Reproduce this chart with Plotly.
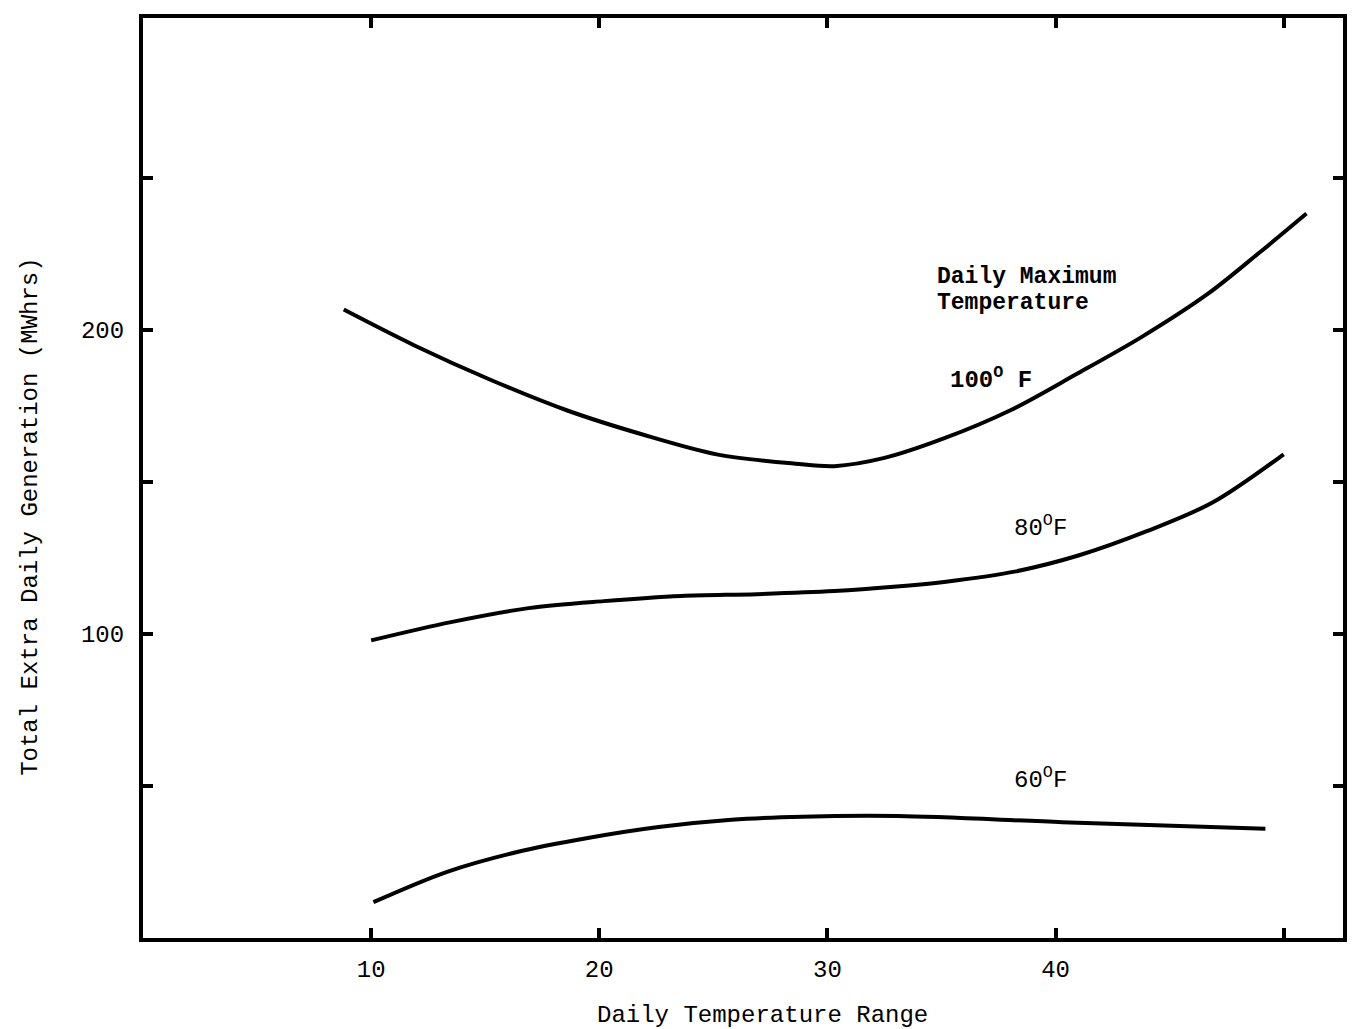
import plotly.graph_objects as go

# Daily temperature range (deg F) and total extra daily generation (MWhrs)
range_100f = [8.8, 11.9, 15.2, 18.6, 21.9, 25.2, 28.6, 30.3, 32.5, 35.1, 38.0, 40.9, 43.8, 46.7, 48.9, 51.0]
gen_100f = [206.7, 194.9, 183.7, 173.5, 165.6, 159.0, 156.0, 155.2, 157.9, 164.3, 173.5, 185.4, 197.8, 212.0, 225.2, 238.3]

range_80f = [10.0, 13.5, 16.9, 20.2, 23.6, 26.9, 30.3, 32.9, 35.2, 38.2, 41.0, 44.0, 46.9, 50.0]
gen_80f = [97.9, 103.9, 108.5, 110.8, 112.5, 113.1, 114.1, 115.5, 117.2, 120.5, 125.8, 133.8, 143.3, 159.1]

range_60f = [10.1, 13.3, 16.4, 19.5, 22.6, 25.8, 28.9, 33.1, 40.3, 49.2]
gen_60f = [11.8, 21.7, 28.3, 32.9, 36.5, 38.9, 39.9, 40.1, 38.1, 35.9]

x_labeled_ticks = [10, 20, 30, 40]
x_plain_ticks = [50]
y_labeled_ticks = [100, 200]
y_plain_ticks = [50, 150, 250]

FONT = "Liberation Mono"

fig = go.Figure()
for xs, ys in [(range_100f, gen_100f), (range_80f, gen_80f), (range_60f, gen_60f)]:
    fig.add_trace(go.Scatter(
        x=xs, y=ys, mode="lines",
        line=dict(color="black", width=4, shape="spline", smoothing=0.9),
        showlegend=False, hoverinfo="skip",
    ))

axis_common = dict(
    showline=True, linecolor="black", linewidth=4, mirror="ticks",
    ticks="inside", ticklen=10, tickwidth=4, tickcolor="black",
    showgrid=False, zeroline=False,
    tickfont=dict(family=FONT, size=24, color="black"),
)
minor_common = dict(ticks="inside", ticklen=10, tickwidth=4, tickcolor="black",
                    tickmode="array", showgrid=False)

fig.update_xaxes(range=[0, 52.6], tickmode="array", tickvals=x_labeled_ticks,
                 minor=dict(tickvals=x_plain_ticks, **minor_common),
                 ticklabelstandoff=6, **axis_common)
fig.update_yaxes(range=[0, 302.6], tickmode="array", tickvals=y_labeled_ticks,
                 minor=dict(tickvals=y_plain_ticks, **minor_common),
                 ticklabelstandoff=10, **axis_common)

annotations = [
    dict(text="<b>Daily Maximum</b>", x=34.7, y=217.4, xanchor="left", yanchor="middle",
         font=dict(family=FONT, size=23, color="black")),
    dict(text="<b>Temperature</b>", x=34.7, y=208.7, xanchor="left", yanchor="middle",
         font=dict(family=FONT, size=23, color="black")),
    dict(text="<b>100<sup>O</sup> F</b>", x=35.3, y=184.0, xanchor="left", yanchor="middle",
         font=dict(family=FONT, size=24, color="black")),
    dict(text="80<sup>O</sup>F", x=38.1, y=135.5, xanchor="left", yanchor="middle",
         font=dict(family=FONT, size=24, color="black")),
    dict(text="60<sup>O</sup>F", x=38.1, y=52.5, xanchor="left", yanchor="middle",
         font=dict(family=FONT, size=24, color="black")),
    dict(text="Total Extra Daily Generation (MWhrs)", xref="paper", yref="paper",
         x=-0.094, y=0.458, textangle=-90, xanchor="center", yanchor="middle",
         font=dict(family=FONT, size=24, color="black")),
    dict(text="Daily Temperature Range", xref="paper", yref="paper",
         x=0.5166, y=-0.084, xanchor="center", yanchor="middle",
         font=dict(family=FONT, size=24, color="black")),
]
for a in annotations:
    a.setdefault("xref", "x")
    a.setdefault("yref", "y")
    a["showarrow"] = False

fig.update_layout(
    width=1352, height=1029,
    margin=dict(l=143, r=5, t=18, b=91),
    paper_bgcolor="white", plot_bgcolor="white",
    annotations=annotations,
)

fig.write_html("out.html")
